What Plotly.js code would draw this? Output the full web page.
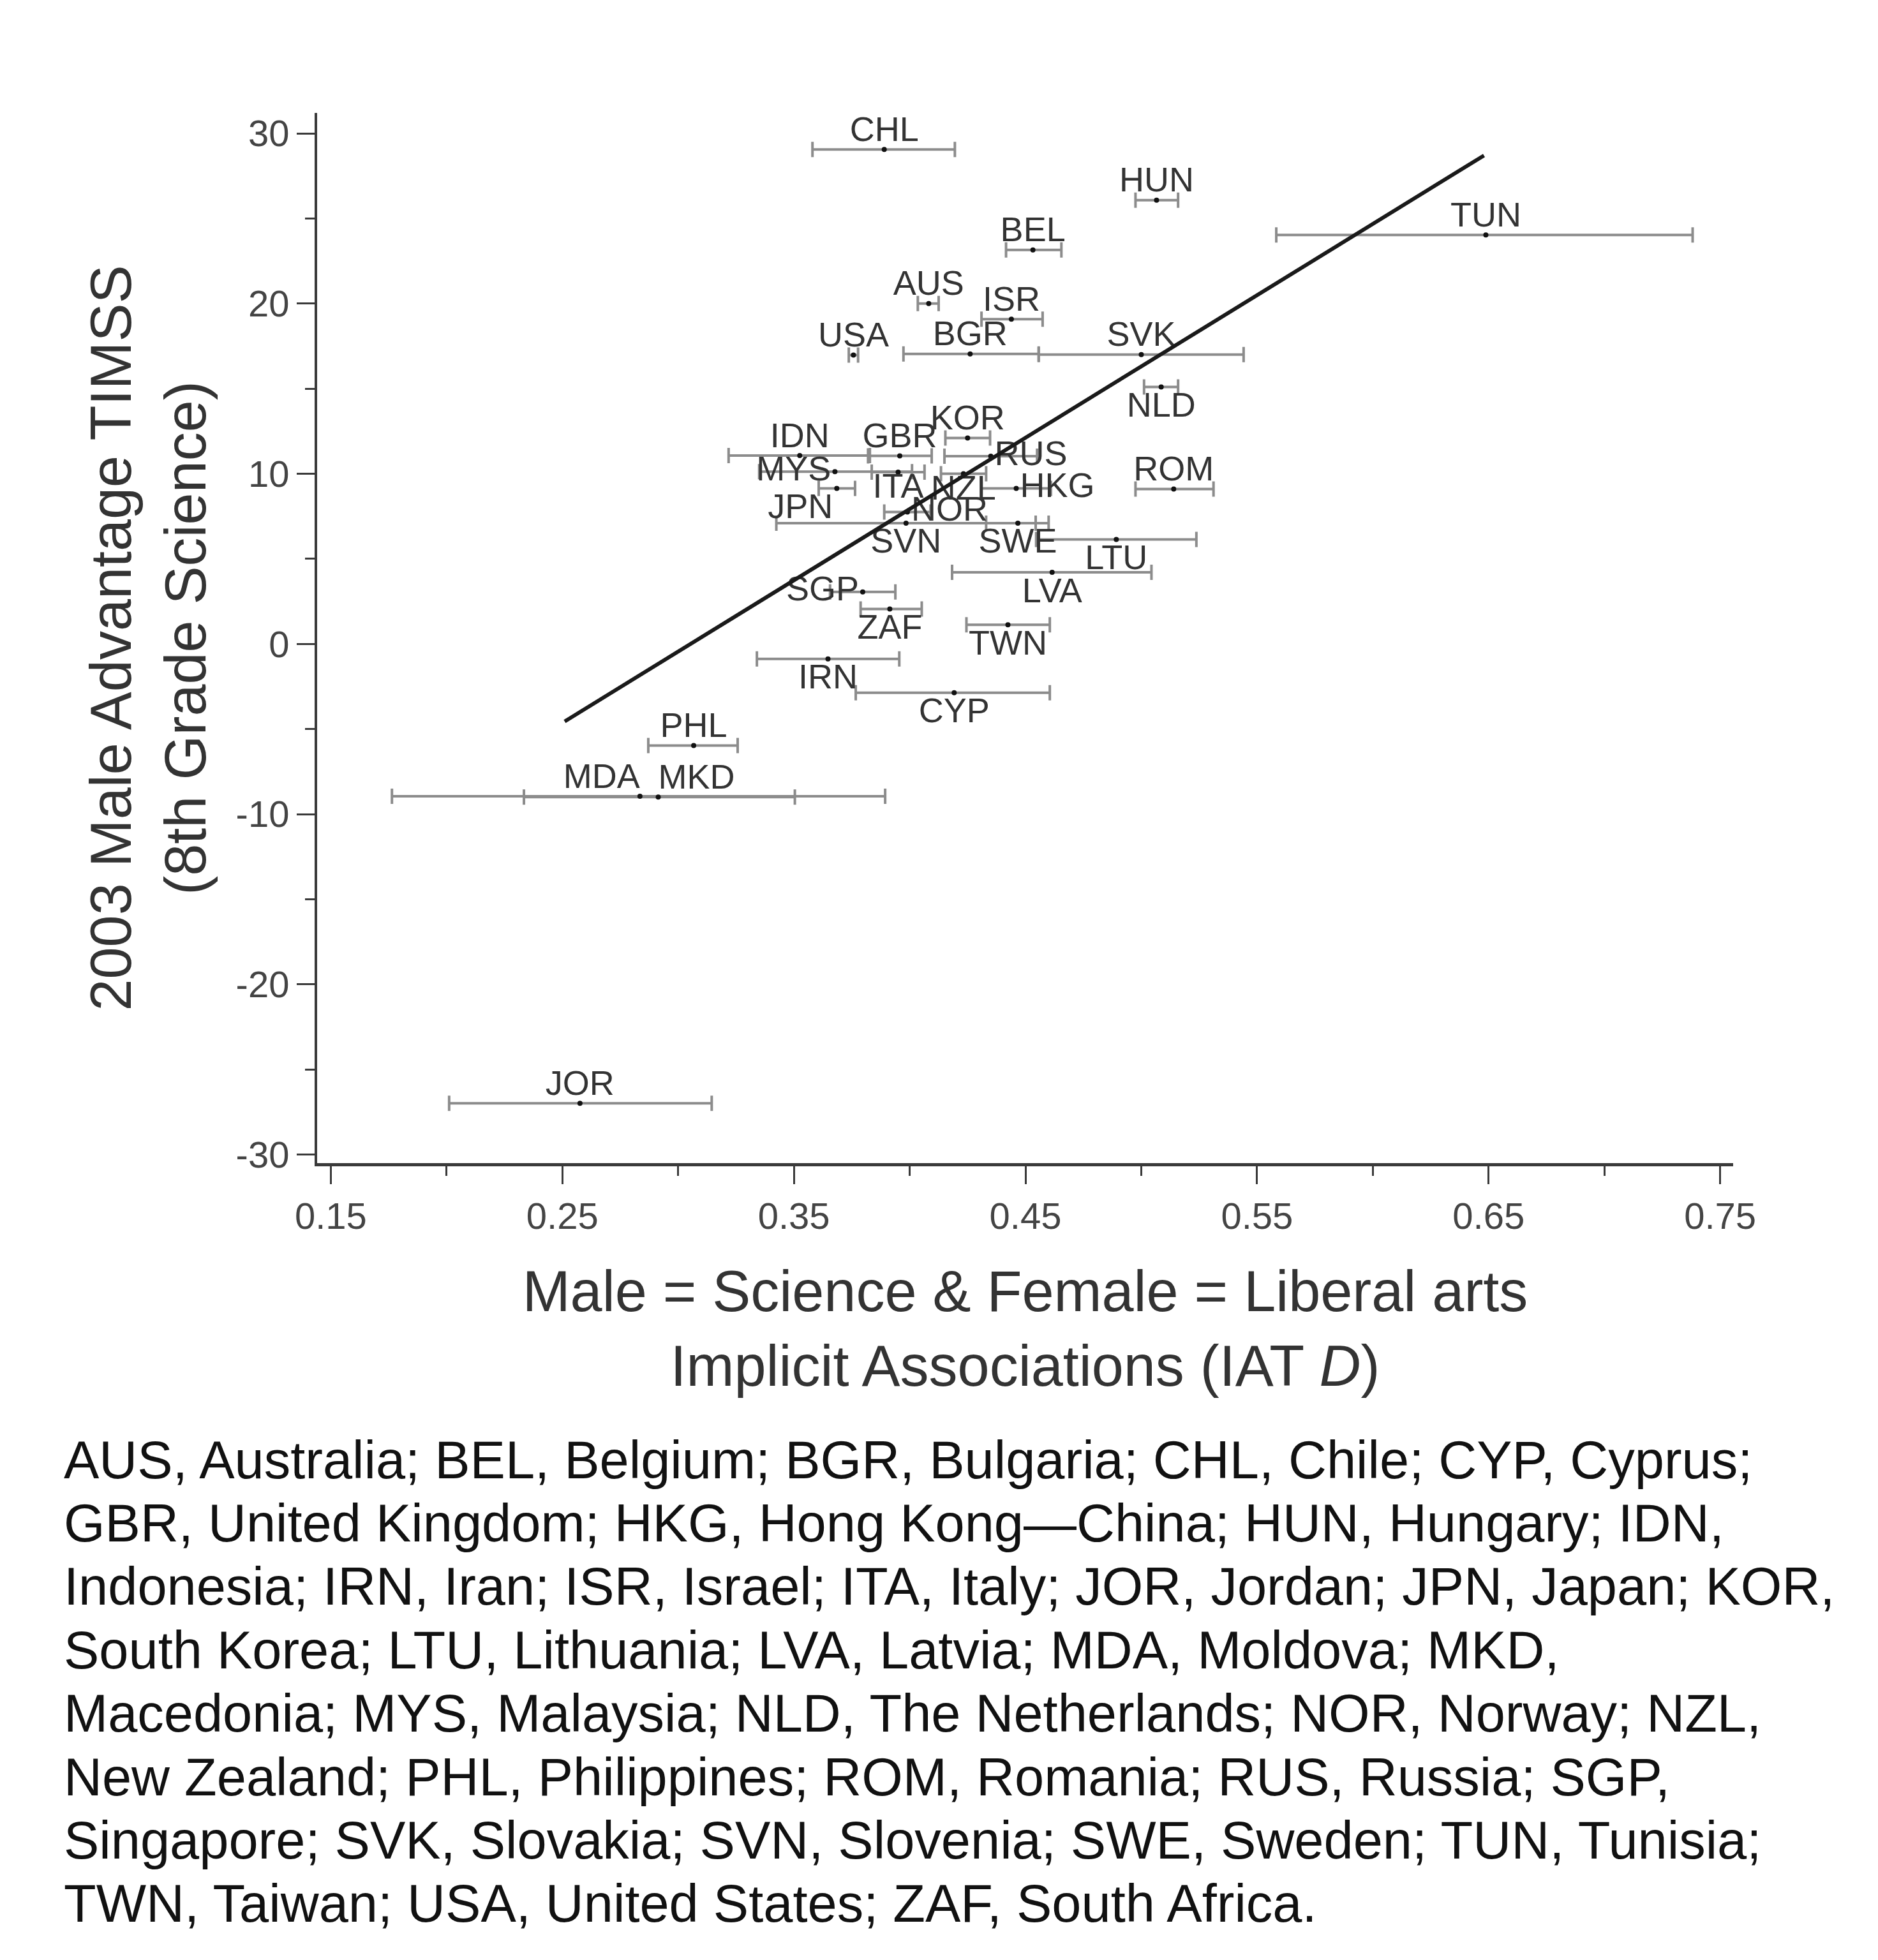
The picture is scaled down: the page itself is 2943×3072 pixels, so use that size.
<!DOCTYPE html>
<html>
<head>
<meta charset="utf-8">
<script src="https://cdn.plot.ly/plotly-3.0.1.min.js"></script>
<style>html,body{margin:0;padding:0;background:#fff;}#chart{width:2943px;height:3072px;}</style>
</head>
<body>
<div id="chart"></div>
<script>
// ---- data ----
const countries = ["CHL","HUN","BEL","TUN","AUS","ISR","USA","BGR","SVK","NLD","KOR","GBR","IDN","RUS","MYS","ITA","NZL","HKG","ROM","JPN","NOR","SVN","SWE","LTU","LVA","SGP","ZAF","TWN","IRN","CYP","PHL","MDA","MKD","JOR"];
const iatD     = [0.389,0.5066,0.4532,0.6488,0.4082,0.4439,0.3757,0.4261,0.500,0.5086,0.4250,0.3957,0.3525,0.4350,0.3677,0.3950,0.4232,0.4460,0.5140,0.3685,0.3990,0.3984,0.4467,0.4892,0.4615,0.3797,0.3914,0.4424,0.3647,0.4192,0.3067,0.2835,0.2914,0.2576];
const iatLow   = [0.358,0.4975,0.4416,0.5583,0.4035,0.4310,0.3737,0.3973,0.4557,0.5012,0.4154,0.3820,0.3218,0.4150,0.3350,0.3836,0.4135,0.4310,0.4975,0.3607,0.3890,0.3424,0.4330,0.4546,0.4183,0.3656,0.3788,0.4245,0.3340,0.3767,0.2871,0.1764,0.2334,0.2011];
const iatHigh  = [0.4195,0.5159,0.4655,0.7381,0.4125,0.4574,0.3777,0.4557,0.5442,0.5159,0.4347,0.4095,0.3828,0.4550,0.4010,0.4064,0.4330,0.4610,0.5312,0.3764,0.4090,0.4544,0.4600,0.5238,0.5044,0.3938,0.4052,0.4605,0.3955,0.4605,0.3257,0.3894,0.3504,0.3145];
const maleAdv  = [29.05,26.07,23.15,24.03,20.0,19.08,16.97,17.04,17.0,15.1,12.1,11.05,11.07,11.03,10.12,10.1,10.0,9.14,9.1,9.14,7.75,7.1,7.1,6.14,4.21,3.06,2.06,1.13,-0.88,-2.86,-5.97,-8.95,-8.99,-26.99];
const labelPos = ["top center","top center","top center","top center","top center","top center","top center","top center","top center","bottom center","top center","top center","top center","middle right","middle left","bottom center","bottom center","middle right","top center","bottom left","middle right","bottom center","bottom center","bottom center","bottom center","middle left","bottom center","bottom center","bottom center","bottom center","top center","top left","top right","top center"];
// labels that sit tight against their dot (no marker padding)
const tightLabel = [1,1,1,1,1,1,1,1,1,0,1,1,1,0,0,1,1,0,1,0,0,0,0,0,0,0,0,0,0,0,1,1,1,1];

const fitX = [0.251, 0.648];
const fitY = [-4.55, 28.7];

const xTickVals = [0.15,0.25,0.35,0.45,0.55,0.65,0.75];
const xTickText = ["0.15","0.25","0.35","0.45","0.55","0.65","0.75"];
const yTickVals = [-30,-20,-10,0,10,20,30];
const yTickText = ["-30","-20","-10","0","10","20","30"];

const xTitle = "Male = Science & Female = Liberal arts<br>Implicit Associations (IAT <i>D</i>)";
const yTitle = "2003 Male Advantage TIMSS<br>(8th Grade Science)";

const captionLines = [
  "AUS, Australia; BEL, Belgium; BGR, Bulgaria; CHL, Chile; CYP, Cyprus;",
  "GBR, United Kingdom; HKG, Hong Kong\u2014China; HUN, Hungary; IDN,",
  "Indonesia; IRN, Iran; ISR, Israel; ITA, Italy; JOR, Jordan; JPN, Japan; KOR,",
  "South Korea; LTU, Lithuania; LVA, Latvia; MDA, Moldova; MKD,",
  "Macedonia; MYS, Malaysia; NLD, The Netherlands; NOR, Norway; NZL,",
  "New Zealand; PHL, Philippines; ROM, Romania; RUS, Russia; SGP,",
  "Singapore; SVK, Slovakia; SVN, Slovenia; SWE, Sweden; TUN, Tunisia;",
  "TWN, Taiwan; USA, United States; ZAF, South Africa."
];

// ---- layout geometry ----
const W = 2943, H = 3072;
const M = {l: 497, r: 227, t: 177, b: 1249};
const plotH = H - M.t - M.b;
function pxToPaperY(py) { return (H - M.b - py) / plotH; }
function pxToPaperX(px) { return (px - M.l) / (W - M.l - M.r); }

const FONT = "Liberation Sans, Arial, Helvetica, sans-serif";
const labelFont = {family: FONT, size: 54, color: "#333333"};

// markers + error bars, with the padded labels
const points = {
  type: "scatter",
  mode: "markers+text",
  x: iatD,
  y: maleAdv,
  text: countries.map((c, i) => tightLabel[i] ? "" : c),
  textposition: labelPos.map((p, i) => tightLabel[i] ? "middle center" : p),
  textfont: labelFont,
  marker: {size: 8, color: "#111111"},
  error_x: {
    type: "data", symmetric: false,
    array: iatHigh.map((h, i) => h - iatD[i]),
    arrayminus: iatLow.map((l, i) => iatD[i] - l),
    color: "#8c8c8c", thickness: 4, width: 12
  },
  cliponaxis: false,
  hoverinfo: "skip",
  showlegend: false
};

// labels sitting tight against the dot (text-only trace)
const tIdx = countries.map((c, i) => i).filter(i => tightLabel[i]);
const tightLabels = {
  type: "scatter",
  mode: "text",
  x: tIdx.map(i => iatD[i]),
  y: tIdx.map(i => maleAdv[i]),
  text: tIdx.map(i => countries[i]),
  textposition: tIdx.map(i => labelPos[i]),
  textfont: labelFont,
  cliponaxis: false,
  hoverinfo: "text",
  showlegend: false
};

const fit = {
  type: "scatter", mode: "lines",
  x: fitX, y: fitY,
  line: {color: "#1a1a1a", width: 6},
  showlegend: false, hoverinfo: "skip"
};

const lineGap = 99.4, firstLineY = 2288;
const annotations = captionLines.map((t, i) => ({
  text: t, xref: "paper", yref: "paper",
  x: pxToPaperX(98), y: pxToPaperY(firstLineY + i * lineGap),
  xanchor: "left", yanchor: "middle", showarrow: false, align: "left",
  font: {family: FONT, size: 83, color: "#111111"}
}));

const layout = {
  width: W, height: H,
  margin: M,
  paper_bgcolor: "#ffffff", plot_bgcolor: "#ffffff",
  showlegend: false,
  font: {family: FONT},
  xaxis: {
    range: [0.1441, 0.7556],
    showgrid: false, zeroline: false,
    showline: true, linecolor: "#3a3a3a", linewidth: 5,
    ticks: "outside", ticklen: 28, tickwidth: 3, tickcolor: "#3a3a3a",
    tickmode: "array", tickvals: xTickVals, ticktext: xTickText,
    tickfont: {family: FONT, size: 58, color: "#444444"},
    minor: {ticks: "outside", dtick: 0.05, tick0: 0.15, ticklen: 15, tickwidth: 3, tickcolor: "#3a3a3a", showgrid: false},
    title: {text: xTitle, font: {family: FONT, size: 90, color: "#333333"}, standoff: 57}
  },
  yaxis: {
    range: [-30.5, 31.2],
    showgrid: false, zeroline: false,
    showline: true, linecolor: "#3a3a3a", linewidth: 4,
    ticks: "outside", ticklen: 28, tickwidth: 3, tickcolor: "#3a3a3a",
    tickmode: "array", tickvals: yTickVals, ticktext: yTickText,
    tickfont: {family: FONT, size: 58, color: "#444444"},
    minor: {ticks: "outside", dtick: 5, tick0: 0, ticklen: 15, tickwidth: 3, tickcolor: "#3a3a3a", showgrid: false},
    title: {text: yTitle, font: {family: FONT, size: 90, color: "#333333"}, standoff: 18}
  },
  annotations: annotations
};

Plotly.newPlot("chart", [points, tightLabels, fit], layout, {staticPlot: true, displayModeBar: false});
</script>
</body>
</html>
